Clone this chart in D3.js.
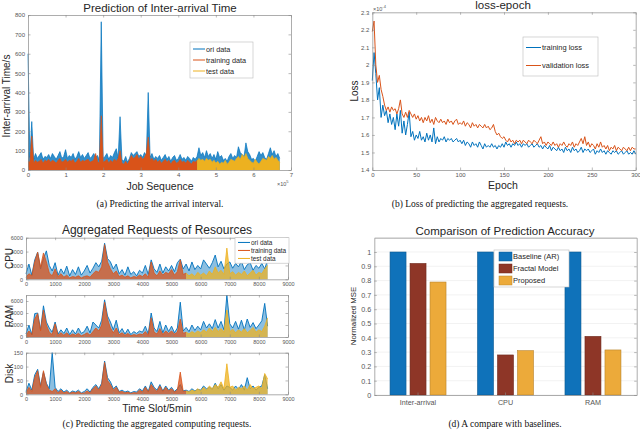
<!DOCTYPE html>
<html>
<head>
<meta charset="utf-8">
<script src="https://cdn.jsdelivr.net/npm/d3@7"></script>
<style>
body { margin: 0; background: #fff; }
</style>
</head>
<body>
<svg id="fig" width="640" height="430"></svg>
<script>
//
// Data
//

// (a) inter-arrival time, one value every 5000 jobs
var arrivalStep = 5000
var arrivalOri = [
  600, 65, 250, 55, 85, 60, 75, 90, 55, 70, 65, 80, 60, 85, 70, 55, 75, 95, 60, 70,
  105, 60, 75, 65, 85, 55, 70, 95, 65, 80, 60, 75, 90, 60, 70, 85, 65, 75, 50, 765,
  60, 70, 85, 55, 75, 65, 90, 110, 60, 275, 55, 45, 70, 40, 60, 90, 75, 85, 95, 70,
  80, 65, 90, 75, 400, 65, 85, 55, 70, 60, 75, 50, 65, 80, 55, 70, 45, 65, 75, 50,
  60, 80, 55, 65, 50, 70, 60, 45, 65, 55, 70, 115, 75, 90, 65, 100, 70, 85, 60, 80,
  55, 95, 65, 75, 50, 60, 45, 70, 85, 60, 75, 65, 120, 90, 80, 70, 140, 95, 80, 55,
  60, 45, 70, 95, 75, 90, 65, 55, 85, 115, 80, 100, 70, 85, 60
]
var arrivalTrain = [
  45, 40, 175, 35, 50, 40, 45, 55, 35, 50, 45, 55, 40, 50, 45, 35, 50, 60, 40, 45,
  55, 40, 50, 45, 55, 35, 45, 60, 40, 50, 45, 50, 55, 40, 45, 50, 85, 45, 35, 280,
  40, 45, 55, 35, 50, 40, 55, 45, 60, 100, 35, 30, 45, 30, 50, 75, 60, 65, 80, 55,
  70, 55, 65, 85, 170, 50, 60, 45, 55, 40, 50, 35, 45, 55, 40, 50, 30, 45, 50, 35,
  40, 55, 40, 45, 35, 50, 40, 30, 45, 40, 50
]
var arrivalTestStart = 90
var arrivalTest = [
  45, 60, 50, 55, 45, 60, 50, 55, 40, 50, 35, 45, 30, 40, 35, 50, 30, 40, 55, 50,
  45, 60, 70, 55, 80, 65, 85, 60, 50, 40, 35, 55, 40, 30, 45, 60, 55, 50, 70, 60,
  75, 55, 65, 50, 40
]
var arrivalXTicks = [0, 1, 2, 3, 4, 5, 6, 7]
var arrivalYTicks = [0, 100, 200, 300, 400, 500, 600, 700, 800]

// (b) loss per epoch (x1e-4), one value every 2 epochs
var epochStep = 2
var trainLoss = [
  1.91, 2.07, 1.95, 1.80, 1.87, 1.70, 1.77, 1.71, 1.74, 1.67,
  1.72, 1.66, 1.70, 1.63, 1.72, 1.65, 1.74, 1.61, 1.68, 1.60,
  1.66, 1.73, 1.59, 1.62, 1.57, 1.60, 1.58, 1.62, 1.57, 1.59,
  1.56, 1.61, 1.57, 1.60, 1.56, 1.64, 1.55, 1.59, 1.56, 1.58,
  1.57, 1.59, 1.56, 1.58, 1.57, 1.58, 1.56, 1.57, 1.58, 1.56,
  1.57, 1.55, 1.57, 1.54, 1.56, 1.55, 1.53, 1.56, 1.54, 1.55,
  1.53, 1.56, 1.54, 1.52, 1.55, 1.53, 1.54, 1.53, 1.55, 1.53,
  1.54, 1.52, 1.54, 1.53, 1.55, 1.53, 1.56, 1.54, 1.55, 1.53,
  1.55, 1.54, 1.56, 1.54, 1.55, 1.53, 1.55, 1.54, 1.55, 1.53,
  1.54, 1.55, 1.53, 1.54, 1.55, 1.53, 1.54, 1.52, 1.54, 1.53,
  1.52, 1.54, 1.51, 1.53, 1.52, 1.51, 1.53, 1.51, 1.52, 1.50,
  1.53, 1.51, 1.52, 1.50, 1.53, 1.51, 1.52, 1.50, 1.51, 1.53,
  1.50, 1.52, 1.51, 1.52, 1.50, 1.51, 1.52, 1.49, 1.51, 1.50,
  1.52, 1.50, 1.51, 1.49, 1.51, 1.50, 1.49, 1.51, 1.50, 1.51,
  1.49, 1.50, 1.51, 1.49, 1.50, 1.51, 1.49, 1.50, 1.49, 1.51,
  1.49
]
var validLoss = [
  2.19, 2.25, 2.00, 1.90, 1.94, 1.86, 1.82, 1.77, 1.74, 1.76,
  1.73, 1.76, 1.74, 1.75, 1.72, 1.75, 1.80, 1.72, 1.70, 1.73,
  1.70, 1.74, 1.72, 1.70, 1.72, 1.69, 1.71, 1.68, 1.70, 1.67,
  1.70, 1.68, 1.71, 1.67, 1.69, 1.66, 1.70, 1.68, 1.67, 1.69,
  1.67, 1.68, 1.66, 1.69, 1.67, 1.68, 1.66, 1.68, 1.69, 1.66,
  1.67, 1.66, 1.68, 1.65, 1.67, 1.66, 1.64, 1.67, 1.65, 1.66,
  1.64, 1.66, 1.65, 1.64, 1.66, 1.64, 1.65, 1.63, 1.64, 1.66,
  1.62, 1.60, 1.61, 1.59, 1.58, 1.59, 1.57, 1.56, 1.58, 1.56,
  1.57, 1.55, 1.57, 1.56, 1.57, 1.55, 1.57, 1.56, 1.55, 1.57,
  1.56, 1.55, 1.57, 1.56, 1.55, 1.57, 1.59, 1.55, 1.56, 1.54,
  1.56, 1.55, 1.54, 1.56, 1.54, 1.55, 1.53, 1.55, 1.54, 1.56,
  1.54, 1.53, 1.55, 1.54, 1.56, 1.53, 1.55, 1.54, 1.56, 1.58,
  1.55, 1.59, 1.54, 1.56, 1.53, 1.55, 1.54, 1.52, 1.55, 1.53,
  1.56, 1.53, 1.54, 1.52, 1.54, 1.51, 1.53, 1.52, 1.54, 1.51,
  1.53, 1.52, 1.51, 1.53, 1.52, 1.51, 1.53, 1.51, 1.53, 1.52,
  1.52
]
var epochTicks = [0, 50, 100, 150, 200, 250, 300]
var lossTicks = [1.4, 1.5, 1.6, 1.7, 1.8, 1.9, 2, 2.1, 2.2, 2.3]

// (c) aggregated requests, one value every 100 slots
var slotStep = 100
var slotTestStart = 55
var cpuOri = [
  800, 2200, 600, 2800, 3900, 1500, 3000, 4100, 2000, 1200,
  2400, 600, 1500, 800, 1900, 500, 1400, 700, 1800, 600,
  1200, 2000, 900, 1600, 2400, 1800, 2600, 5200, 3000, 2500,
  1500, 2200, 800, 1400, 600, 1800, 700, 1100, 500, 1300,
  900, 2000, 700, 2800, 1500, 1000, 2200, 900, 1800, 1200,
  2000, 1100, 2400, 2900, 1500, 2200, 1200, 2500, 1400, 2000,
  1500, 2800, 2200, 1600, 2400, 3500, 1800, 2600, 1500, 2200,
  2500, 1600, 2300, 1800, 2600, 1400, 2100, 2400, 1300, 2000,
  1600, 2300, 1500, 2800
]
var cpuTrain = [
  300, 800, 500, 2500, 3900, 1800, 3800, 2500, 900, 500,
  1500, 400, 800, 300, 600, 200, 400, 300, 500, 200,
  400, 500, 300, 800, 1200, 1000, 1800, 5000, 2500, 1500,
  800, 1200, 400, 600, 300, 500, 200, 400, 300, 600,
  400, 800, 300, 2500, 900, 500, 1200, 600, 1000, 800,
  1400, 600, 1100, 2800, 700, 900
]
var cpuTest = [
  900, 500, 800, 400, 1000, 600, 900, 500, 1200, 700,
  1800, 900, 1300, 700, 4500, 800, 1100, 600, 1000, 700,
  1200, 500, 900, 1300, 600, 1000, 800, 1500, 2000
]
var ramOri = [
  500, 2000, 400, 3900, 4000, 1200, 5200, 2500, 1500, 800,
  2500, 500, 1200, 600, 1500, 400, 1200, 500, 1500, 600,
  900, 1800, 700, 2500, 2000, 1500, 2800, 6200, 3500, 2500,
  1200, 2800, 700, 1400, 500, 1300, 400, 900, 600, 1000,
  800, 1800, 500, 4000, 1500, 900, 2600, 700, 2000, 900,
  1800, 700, 1500, 5800, 1000, 1600, 900, 2000, 1100, 1800,
  1200, 2600, 1500, 2200, 1400, 2900, 1500, 2600, 1200, 7000,
  2200, 1500, 2600, 1300, 2800, 1200, 3000, 1600, 2400, 1400,
  2000, 2700, 5600, 1800
]
var ramTrain = [
  300, 1000, 400, 3000, 3900, 1000, 4500, 2000, 800, 400,
  2200, 300, 700, 300, 700, 200, 500, 300, 600, 200,
  400, 700, 300, 900, 1500, 1000, 2000, 5800, 3000, 1500,
  700, 1500, 400, 700, 300, 600, 200, 400, 300, 500,
  400, 900, 300, 3200, 800, 500, 1400, 400, 1000, 600,
  1000, 500, 800, 3000, 600, 800
]
var ramTest = [
  800, 500, 900, 600, 1000, 700, 1200, 800, 1500, 900,
  1600, 900, 1400, 800, 4500, 900, 1300, 700, 1200, 800,
  1400, 700, 1100, 1600, 800, 1200, 900, 1800, 3200
]
var diskOri = [
  10, 40, 15, 70, 90, 30, 80, 40, 20, 150,
  25, 10, 20, 8, 15, 5, 12, 8, 15, 5,
  10, 20, 8, 25, 35, 20, 40, 120, 60, 45,
  20, 30, 10, 15, 8, 12, 5, 10, 8, 20,
  12, 30, 10, 45, 25, 15, 35, 12, 30, 15,
  25, 10, 20, 35, 12, 15, 10, 20, 12, 18,
  15, 30, 20, 25, 18, 40, 20, 35, 15, 30,
  25, 15, 30, 18, 35, 15, 60, 20, 30, 15,
  25, 30, 70, 20
]
var diskTrain = [
  5, 25, 10, 60, 85, 25, 85, 35, 15, 10,
  20, 5, 15, 5, 10, 3, 8, 5, 10, 3,
  5, 12, 5, 20, 30, 15, 35, 115, 50, 35,
  15, 25, 8, 10, 5, 8, 3, 6, 5, 15,
  8, 25, 8, 35, 20, 10, 30, 10, 25, 12,
  20, 8, 15, 80, 10, 12
]
var diskTest = [
  12, 8, 15, 10, 20, 12, 25, 15, 30, 20,
  35, 25, 45, 20, 110, 25, 30, 15, 25, 20,
  30, 15, 35, 20, 25, 30, 20, 75, 55
]
var slotTicks = [0, 1000, 2000, 3000, 4000, 5000, 6000, 7000, 8000, 9000]
var reqTicks = [0, 2000, 4000, 6000]
var diskTicks = [0, 50, 100, 150]

// (d) normalized MSE
var methods = ['Baseline (AR)', 'Fractal Model', 'Proposed']
var tasks = ['Inter-arrival', 'CPU', 'RAM']
var mseBaseline = [1, 1, 1]
var mseFractal = [0.92, 0.28, 0.41]
var mseProposed = [0.79, 0.31, 0.315]
var mseTicks = [0, 0.1, 0.2, 0.3, 0.4, 0.5, 0.6, 0.7, 0.8, 0.9, 1]

//
// Style
//

var sans = '"Liberation Sans", Arial, sans-serif'
var serif = '"Liberation Serif", "Times New Roman", serif'
var colorOri = '#0072BD'
var colorTrain = '#D95319'
var colorTest = '#EDB120'
var barColors = ['#0F72BA', '#8E3627', '#ECAA3A']
var axisColor = '#8a8a8a'
var tickColor = '#555'

var svg = d3.select('#fig')

//
// Helpers
//

function axes(x, y, xt, yt, fs, xfmt, yfmt) {
  var g = svg.append('g')
  var xl = x.range()[0], xr = x.range()[1]
  var yb = y.range()[0], yt0 = y.range()[1]
  g.append('g').attr('transform', 'translate(0,' + yb + ')')
    .call(d3.axisBottom(x).tickValues(xt).tickSize(-2.5).tickSizeOuter(0).tickPadding(3).tickFormat(xfmt))
  g.append('g').attr('transform', 'translate(0,' + yt0 + ')')
    .call(d3.axisTop(x).tickValues(xt).tickSize(-2.5).tickSizeOuter(0).tickFormat(''))
  g.append('g').attr('transform', 'translate(' + xl + ',0)')
    .call(d3.axisLeft(y).tickValues(yt).tickSize(-2.5).tickSizeOuter(0).tickPadding(3).tickFormat(yfmt))
  g.append('g').attr('transform', 'translate(' + xr + ',0)')
    .call(d3.axisRight(y).tickValues(yt).tickSize(-2.5).tickSizeOuter(0).tickFormat(''))
  g.selectAll('path.domain').attr('stroke', axisColor).attr('stroke-width', 0.7)
  g.selectAll('.tick line').attr('stroke', axisColor).attr('stroke-width', 0.6)
  g.selectAll('text').attr('fill', tickColor).attr('font-family', sans).attr('font-size', fs)
  return g
}

function label(x, y, txt, size, opts) {
  opts = opts || {}
  var t = svg.append('text')
    .attr('x', x).attr('y', y)
    .attr('text-anchor', opts.anchor || 'middle')
    .attr('font-family', opts.font || sans)
    .attr('font-size', size)
    .attr('fill', opts.color || '#262626')
    .text(txt)
  if (opts.rotate) t.attr('transform', 'rotate(-90,' + x + ',' + y + ')')
  return t
}

// dense signal: filled underneath, jagged line on top
function series(x, y, data, start, step, color, op, lw) {
  var area = d3.area()
    .x(function (d, i) { return x((start + i) * step) })
    .y0(y(0))
    .y1(function (d) { return y(d) })
  var line = d3.line()
    .x(function (d, i) { return x((start + i) * step) })
    .y(function (d) { return y(d) })
  svg.append('path').attr('d', area(data)).attr('fill', color).attr('fill-opacity', op)
  svg.append('path').attr('d', line(data)).attr('fill', 'none')
    .attr('stroke', color).attr('stroke-width', lw || 0.8)
}

function legend(x, y, w, h, names, colors, gap, fs, swatch) {
  svg.append('rect').attr('x', x).attr('y', y).attr('width', w).attr('height', h)
    .attr('fill', '#fff').attr('stroke', '#bbb').attr('stroke-width', 0.6)
  names.forEach(function (n, i) {
    var cy = y + gap * (i + 0.5) + (h - gap * names.length) / 2
    if (swatch == 'rect') {
      svg.append('rect').attr('x', x + 5).attr('y', cy - 4.5).attr('width', 13).attr('height', 9)
        .attr('fill', colors[i]).attr('stroke', d3.color(colors[i]).darker(0.7)).attr('stroke-width', 0.5)
      label(x + 19, cy + fs * 0.35, n, fs, { anchor: 'start' })
    } else {
      svg.append('line').attr('x1', x + 3).attr('x2', x + 3 + swatch).attr('y1', cy).attr('y2', cy)
        .attr('stroke', colors[i]).attr('stroke-width', 1)
      label(x + 4 + swatch, cy + fs * 0.35, n, fs, { anchor: 'start' })
    }
  })
}

//
// (a) Inter-arrival time
//

var xa = d3.scaleLinear().domain([0, 7e5]).range([28, 291])
var ya = d3.scaleLinear().domain([0, 800]).range([170, 15])
series(xa, ya, arrivalOri, 0, arrivalStep, colorOri, 0.8, 0.7)
series(xa, ya, arrivalTrain, 0, arrivalStep, colorTrain, 1, 0.7)
series(xa, ya, arrivalTest, arrivalTestStart, arrivalStep, colorTest, 1, 0.7)
axes(xa, ya, arrivalXTicks.map(function (d) { return d * 1e5 }), arrivalYTicks, 6,
  function (d) { return d / 1e5 }, d3.format('d'))
label(160, 12, 'Prediction of Inter-arrival Time', 11.5)
label(10, 96, 'Inter-arrival Time/s', 10, { rotate: true })
label(160, 190, 'Job Sequence', 10.5)
var ex5 = label(277, 186, '\u00d710', 5.5, { anchor: 'start', color: tickColor })
ex5.append('tspan').attr('dy', -3).attr('font-size', 4).text('5')
legend(190, 42, 63, 36, ['ori data', 'training data', 'test data'],
  [colorOri, colorTrain, colorTest], 11, 7.3, 12)
label(160, 207, '(a) Predicting the arrival interval.', 9.5, { font: serif, color: '#111' })

//
// (b) Loss-epoch
//

var xb = d3.scaleLinear().domain([0, 300]).range([372.3, 635.7])
var yb = d3.scaleLinear().domain([1.4, 2.3]).range([170, 12.3])
var lossLine = d3.line()
  .x(function (d, i) { return xb(i * epochStep) })
  .y(function (d) { return yb(d) })
svg.append('path').attr('d', lossLine(trainLoss)).attr('fill', 'none')
  .attr('stroke', colorOri).attr('stroke-width', 1)
svg.append('path').attr('d', lossLine(validLoss)).attr('fill', 'none')
  .attr('stroke', colorTrain).attr('stroke-width', 1)
axes(xb, yb, epochTicks, lossTicks, 6, d3.format('d'), function (d) { return String(+d.toFixed(1)) })
label(503, 9, 'loss-epoch', 11.5)
label(358, 91, 'Loss', 10, { rotate: true })
label(503, 189, 'Epoch', 10.5)
var ex4 = label(373, 11, '\u00d710', 5.5, { anchor: 'start', color: tickColor })
ex4.append('tspan').attr('dy', -3).attr('font-size', 4).text('-4')
legend(523, 37, 75, 39, ['training loss', 'validation loss'], [colorOri, colorTrain], 18, 7.5, 15)
label(480, 207, '(b) Loss of predicting the aggregated requests.', 9.5, { font: serif, color: '#111' })

//
// (c) Aggregated requests
//

var xc = d3.scaleLinear().domain([0, 9000]).range([26, 288])
var panels = [
  { name: 'CPU', ori: cpuOri, train: cpuTrain, test: cpuTest, max: 6000, ticks: reqTicks, top: 237.7, bottom: 279.3 },
  { name: 'RAM', ori: ramOri, train: ramTrain, test: ramTest, max: 7000, ticks: reqTicks, top: 295, bottom: 337 },
  { name: 'Disk', ori: diskOri, train: diskTrain, test: diskTest, max: 150, ticks: diskTicks, top: 352.7, bottom: 394.3 }
]
panels.forEach(function (p) {
  var yc = d3.scaleLinear().domain([0, p.max]).range([p.bottom, p.top])
  series(xc, yc, p.ori, 0, slotStep, colorOri, 0.45, 0.9)
  series(xc, yc, p.train, 0, slotStep, colorTrain, 0.75, 0.8)
  series(xc, yc, p.test, slotTestStart, slotStep, colorTest, 0.75, 0.8)
  axes(xc, yc, slotTicks, p.ticks, 5.5, d3.format('d'), d3.format('d'))
  label(13, (p.top + p.bottom) / 2, p.name, 10, { rotate: true })
})
label(157, 234, 'Aggregated Requests of Resources', 12)
label(157, 412, 'Time Slot/5min', 10.5)
legend(235, 237.7, 54, 25.5, ['ori data', 'training data', 'test data'],
  [colorOri, colorTrain, colorTest], 8, 6.4, 12)
label(157, 427, '(c) Predicting the aggregated computing requests.', 9.5, { font: serif, color: '#111' })

//
// (d) Comparison bars
//

var xd = d3.scaleBand().domain(tasks).range([374.3, 636.7]).paddingInner(0.36).paddingOuter(0.18)
var xd1 = d3.scaleBand().domain(methods).range([0, xd.bandwidth()]).paddingInner(0.2)
var yd = d3.scaleLinear().domain([0, 1.1]).range([395, 237.7])
svg.append('g').selectAll('line').data(mseTicks.concat([1.1])).enter().append('line')
  .attr('x1', 374.3).attr('x2', 636.7)
  .attr('y1', function (d) { return yd(d) }).attr('y2', function (d) { return yd(d) })
  .attr('stroke', '#ececec').attr('stroke-width', 0.7)
var mse = [mseBaseline, mseFractal, mseProposed]
methods.forEach(function (m, j) {
  svg.append('g').selectAll('rect').data(mse[j]).enter().append('rect')
    .attr('x', function (d, i) { return xd(tasks[i]) + xd1(m) })
    .attr('y', function (d) { return yd(d) })
    .attr('width', xd1.bandwidth())
    .attr('height', function (d) { return yd(0) - yd(d) })
    .attr('fill', barColors[j])
    .attr('stroke', d3.color(barColors[j]).darker(0.7)).attr('stroke-width', 0.6)
})
var xdAxis = d3.scaleLinear().domain([0, 1]).range([374.3, 636.7])
axes(xdAxis, yd, [], mseTicks, 7.2, '', function (d) { return String(+d.toFixed(1)) })
tasks.forEach(function (t) {
  var cx = xd(t) + xd.bandwidth() / 2
  svg.append('line').attr('x1', cx).attr('x2', cx).attr('y1', 395).attr('y2', 392.5)
    .attr('stroke', axisColor).attr('stroke-width', 0.6)
  label(cx, 405, t, 7.2, { color: tickColor })
})
label(505, 235, 'Comparison of Prediction Accuracy', 11.5)
label(356, 316, 'Normalized MSE', 7.8, { rotate: true })
legend(494, 250, 75, 37, methods, barColors, 12, 7.5, 'rect')
label(505, 427, '(d) A compare with baselines.', 9.5, { font: serif, color: '#111' })
</script>
</body>
</html>
